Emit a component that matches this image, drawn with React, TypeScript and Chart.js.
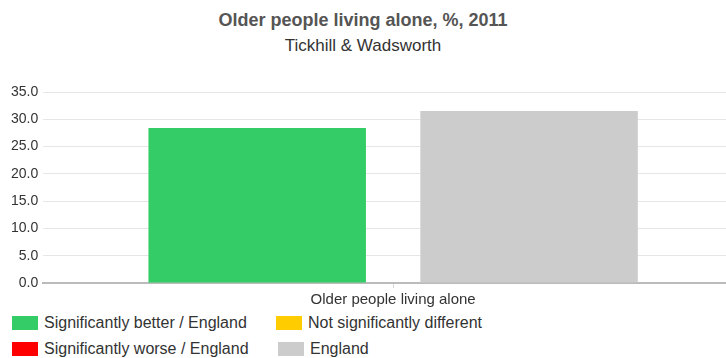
import React, { useEffect, useRef } from "react";
import { Chart, registerables } from "chart.js";

Chart.register(...registerables);

const titleText = "Older people living alone, %, 2011";
const subtitleText = "Tickhill & Wadsworth";
const categories = ["Older people living alone"];
const areaValues = [28.4];
const englandValues = [31.5];
const areaColor = "#33cc66";
const englandColor = "#cccccc";
const legendItems = [
  { label: "Significantly better / England", color: "#33cc66" },
  { label: "Not significantly different", color: "#ffcc00" },
  { label: "Significantly worse / England", color: "#ff0000" },
  { label: "England", color: "#cccccc" },
];

const FONT = "'Liberation Sans', Arial, sans-serif";

export default function App() {
  const ref = useRef<HTMLCanvasElement | null>(null);

  useEffect(() => {
    if (!ref.current) return;
    const chart = new Chart(ref.current, {
      type: "bar",
      data: {
        labels: categories,
        datasets: [
          {
            label: "Tickhill & Wadsworth",
            data: areaValues,
            backgroundColor: areaColor,
            borderWidth: 0,
            barPercentage: 0.8,
            categoryPercentage: 0.777,
          },
          {
            label: "England",
            data: englandValues,
            backgroundColor: englandColor,
            borderWidth: 0,
            barPercentage: 0.8,
            categoryPercentage: 0.777,
          },
        ],
      },
      options: {
        responsive: false,
        animation: false,
        devicePixelRatio: 1,
        layout: { padding: { top: 92, left: 6, right: 17, bottom: 0 } },
        plugins: {
          legend: { display: false },
          tooltip: { enabled: false },
          title: { display: false },
        },
        scales: {
          x: {
            grid: {
              display: true,
              drawOnChartArea: false,
              offset: false,
              tickLength: 5,
              color: "#d8d8d8",
            },
            border: { display: true, color: "#bbbbbb", width: 2 },
            ticks: {
              color: "#333333",
              font: { family: FONT, size: 15 },
              padding: 3,
            },
          },
          y: {
            min: 0,
            max: 35,
            grid: { color: "#e6e6e6", drawTicks: false, lineWidth: 1 },
            border: { display: false },
            ticks: {
              stepSize: 5,
              color: "#333333",
              padding: 5,
              font: { family: FONT, size: 14 },
              callback: (v: any) => Number(v).toFixed(1),
            },
          },
        },
      },
    });
    return () => chart.destroy();
  }, []);

  return (
    <div
      style={{
        position: "absolute",
        left: 0,
        top: 0,
        width: 726,
        height: 358,
        overflow: "hidden",
        background: "#fff",
        fontFamily: FONT,
      }}
    >
      <div
        style={{
          position: "absolute",
          top: 8,
          left: 0,
          width: 726,
          textAlign: "center",
          fontWeight: "bold",
          fontSize: 18,
          color: "#555555",
          lineHeight: "24px",
        }}
      >
        {titleText}
      </div>
      <div
        style={{
          position: "absolute",
          top: 35,
          left: 0,
          width: 726,
          textAlign: "center",
          fontSize: 17,
          color: "#333333",
          lineHeight: "22px",
        }}
      >
        {subtitleText}
      </div>
      <canvas
        ref={ref}
        width={760}
        height={312}
        style={{ position: "absolute", left: 0, top: 0, width: 760, height: 312 }}
      />
      {legendItems.map((it, i) => {
        const col = i % 2;
        const row = Math.floor(i / 2);
        const left = col === 0 ? 12 : 276 + (row === 1 ? 2 : 0);
        const top = 316 + row * 26;
        return (
          <div
            key={it.label}
            style={{
              position: "absolute",
              left,
              top: top - 3,
              height: 20,
              display: "flex",
              alignItems: "center",
              whiteSpace: "nowrap",
            }}
          >
            <span
              style={{
                display: "inline-block",
                width: 26,
                height: 14,
                background: it.color,
                marginRight: 6,
              }}
            />
            <span style={{ fontSize: 16, color: "#333333" }}>{it.label}</span>
          </div>
        );
      })}
    </div>
  );
}
